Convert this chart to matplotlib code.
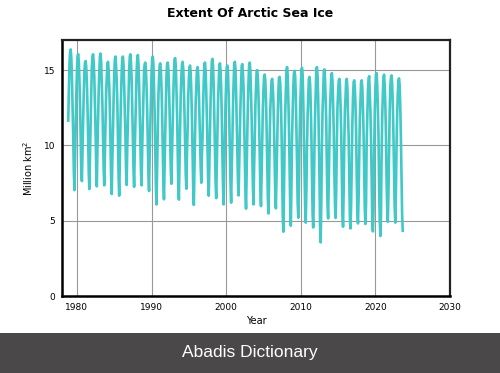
import numpy as np
import matplotlib
matplotlib.use("Agg")
import matplotlib.pyplot as plt
from matplotlib.patches import Rectangle

# ---- data (million km^2), monthly extent ----
years = list(range(1979, 2024))  # 1979..2023
start_1978 = {"nov": 11.65, "dec": 13.7}

jan = [15.4,14.9,14.9,15.2,14.9,14.5,14.7,14.9,15.0,14.9,15.0,14.8,14.4,14.6,14.8,
       14.6,14.4,14.0,14.3,14.5,14.2,14.2,14.2,14.1,14.3,13.9,13.7,13.4,13.6,13.7,
       13.9,13.7,13.3,13.6,13.6,13.5,13.5,13.2,13.2,13.1,13.6,13.8,13.4,13.9,13.4]
feb = [16.2,15.9,15.5,15.9,15.9,15.4,15.7,15.8,15.9,15.8,15.4,15.7,15.3,15.4,15.7,
       15.4,15.2,15.0,15.4,15.6,15.3,15.2,15.4,15.3,15.4,14.9,14.6,14.3,14.5,15.0,
       14.8,15.0,14.4,15.0,14.9,14.6,14.3,14.3,14.2,14.2,14.4,14.7,14.5,14.5,14.3]
mar = [16.37,16.06,15.60,16.05,16.10,15.55,15.90,15.90,16.05,16.00,15.50,15.90,15.45,15.50,15.80,
       15.55,15.30,15.20,15.50,15.75,15.45,15.30,15.55,15.40,15.50,15.00,14.70,14.42,14.55,15.20,
       14.95,15.15,14.55,15.20,15.05,14.80,14.42,14.42,14.32,14.32,14.60,14.80,14.70,14.65,14.45]
apr = [15.8,15.6,15.2,15.5,15.5,15.0,15.3,15.3,15.5,15.4,15.0,15.4,15.0,15.1,15.3,
       15.1,14.8,14.8,14.9,15.2,15.0,14.8,15.1,14.8,14.9,14.5,14.3,13.9,14.1,14.6,
       14.6,14.7,14.1,14.6,14.4,14.3,14.0,13.8,13.8,13.8,13.4,14.0,14.0,14.1,14.0]
may = [14.5,14.4,14.2,14.5,14.2,13.9,14.3,14.0,14.4,14.1,13.9,13.7,13.9,13.9,13.9,
       13.8,13.6,13.7,13.6,13.9,13.8,13.4,13.6,13.8,13.5,13.3,13.1,12.9,13.0,13.1,
       13.3,13.1,12.8,13.2,13.1,12.8,12.6,12.0,12.7,12.5,12.3,12.5,12.7,12.8,12.6]
jun = [12.7,12.8,12.6,12.7,12.7,12.3,12.8,12.4,12.5,12.2,12.3,12.2,12.2,12.3,12.2,
       12.1,11.8,12.1,11.9,11.9,11.9,11.7,11.7,11.6,11.8,11.5,11.3,11.1,11.1,11.2,
       11.1,10.8,10.8,10.6,11.5,11.0,10.9,10.6,10.9,10.8,10.5,10.6,10.7,10.8,10.6]
jul = [10.7,10.6,10.6,10.8,10.6,10.2,10.4,10.6,10.4,10.3,10.0,9.6,9.7,10.4,9.7,
       10.0,9.3,10.4,9.7,9.6,9.3,9.6,9.5,9.3,9.4,9.3,8.9,8.9,8.2,8.6,
       8.8,8.4,7.9,8.0,8.4,8.2,8.4,8.0,7.9,8.3,7.6,7.3,7.7,8.3,7.8]
aug = [8.3,8.3,8.2,8.6,8.4,7.9,7.9,8.4,8.4,8.3,8.0,7.3,7.6,8.3,7.4,
       8.1,7.2,8.6,7.8,7.6,7.2,7.4,7.6,6.9,7.3,7.1,6.6,6.7,5.4,5.9,
       6.2,6.0,5.5,4.7,6.1,6.1,5.5,5.2,5.6,5.7,5.0,5.1,5.8,5.9,5.4]
sep = [7.03,7.63,7.10,7.28,7.35,6.77,6.66,7.37,7.25,7.35,6.97,6.08,6.42,7.45,6.40,
       7.12,6.05,7.52,6.66,6.50,6.08,6.20,6.68,5.80,6.08,5.97,5.48,5.82,4.27,4.67,
       5.20,4.87,4.55,3.56,5.15,5.18,4.60,4.49,4.82,4.78,4.29,3.98,4.93,4.87,4.33]
# Oct-Dec for 1979..2022 (series ends Sep 2023)
oct_ = [9.3,9.8,9.3,9.7,9.5,9.1,8.8,9.9,9.6,9.8,9.4,8.6,8.6,9.5,8.9,
        9.4,8.3,9.3,8.8,8.9,8.5,8.5,8.8,8.3,8.6,8.0,7.5,7.9,6.8,7.3,
        7.2,6.9,6.5,6.1,7.5,6.9,7.0,6.1,6.5,6.1,5.7,5.3,6.8,6.8]
nov = [11.2,11.6,11.3,11.6,11.6,10.9,11.4,11.6,11.4,11.6,11.3,11.0,10.8,11.5,11.3,
       11.0,10.8,10.5,10.9,10.9,10.6,10.3,10.7,10.7,10.4,10.4,10.4,9.9,10.1,10.6,
       10.2,9.8,9.9,9.9,10.2,10.2,10.1,8.7,9.4,10.2,9.4,9.4,9.8,9.9]
dec = [13.3,13.5,13.4,13.6,13.5,13.1,13.4,13.4,13.5,13.4,13.5,13.2,12.8,13.3,13.4,
       13.2,12.9,12.7,13.0,13.0,12.8,12.6,12.6,12.8,12.6,12.4,12.4,12.0,12.2,12.4,
       12.5,12.0,12.0,12.2,12.4,12.5,12.4,11.5,11.8,12.0,12.2,11.9,12.3,12.0]

title = "Extent Of Arctic Sea Ice"
xlabel = "Year"
ylabel = "Million km$^2$"
xticks = [1980, 1990, 2000, 2010, 2020, 2030]
yticks = [0, 5, 10, 15]

# ---- build time series ----
t = [1978 + 10/12, 1978 + 11/12]
v = [start_1978["nov"], start_1978["dec"]]
months = [jan, feb, mar, apr, may, jun, jul, aug, sep, oct_, nov, dec]
for i, y in enumerate(years):
    for m, arr in enumerate(months):
        if i < len(arr):
            t.append(y + m / 12)
            v.append(arr[i])

# ---- figure ----
fig = plt.figure(figsize=(5.0, 3.73), dpi=100)
ax = fig.add_axes([0.124, 0.2064, 0.776, 0.6864])
ax.plot(t, v, color="#40c9c6", linewidth=1.9)
ax.set_xlim(1978, 2030)
ax.set_ylim(0, 17)
ax.set_xticks(xticks)
ax.set_yticks(yticks)
ax.grid(True, color="#999999", linewidth=0.8)
ax.set_axisbelow(True)
ax.tick_params(length=0, labelsize=6.5, pad=5)
for s in ["left", "bottom"]:
    ax.spines[s].set_linewidth(1.8)
    ax.spines[s].set_color("black")
for s in ["top", "right"]:
    ax.spines[s].set_linewidth(1.6)
    ax.spines[s].set_color("#222222")
ax.set_xlabel(xlabel, fontsize=7, labelpad=3)
ax.set_ylabel(ylabel, fontsize=7, labelpad=6)
fig.text(0.5, 0.965, title, ha="center", va="center", fontsize=9, fontweight="bold")

# watermark banner
fig.patches.append(Rectangle((0, 0), 1, 40/373, transform=fig.transFigure,
                             facecolor="#4a4848", edgecolor="none", zorder=5))
fig.text(0.5, 20/373, "Abadis Dictionary", ha="center", va="center", color="white",
         fontsize=12.5, family="Liberation Sans", zorder=6)

fig.savefig("out.png", dpi=100)
